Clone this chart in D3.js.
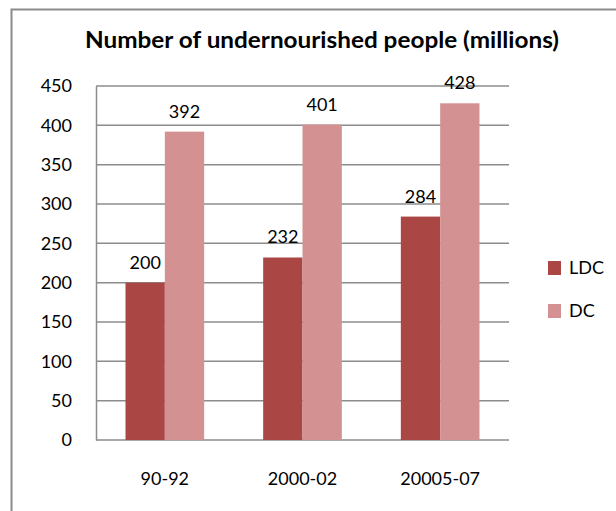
<!DOCTYPE html>
<html>
<head>
<meta charset="utf-8">
<script src="https://cdn.jsdelivr.net/npm/d3@7"></script>
<style>
  body { margin: 0; background: #fff; }
  text { font-family: Lato, "Open Sans", sans-serif; fill: #000; }
</style>
</head>
<body>
<div id="chart"></div>
<script>
// data
let periods = ['90-92', '2000-02', '20005-07']
let seriesNames = ['LDC', 'DC']
let ldcValues = [200, 232, 284]
let dcValues = [392, 401, 428]
let yTicks = [0, 50, 100, 150, 200, 250, 300, 350, 400, 450]
let colors = { LDC: '#aa4644', DC: '#d39291' }

let width = 616
let height = 511
let plot = { left: 96, right: 509, top: 86, bottom: 440 }

let rows = periods.map(function (p, i) {
  return { period: p, LDC: ldcValues[i], DC: dcValues[i] }
})

let svg = d3
  .select('#chart')
  .append('svg')
  .attr('width', width)
  .attr('height', height)

svg.append('rect')
  .attr('width', width)
  .attr('height', height)
  .attr('fill', '#fff')

// outer frame, runs off the right and bottom edges
svg.append('path')
  .attr('d', 'M11.5,' + (height + 5) + 'V9.5H' + (width + 5))
  .attr('fill', 'none')
  .attr('stroke', '#8c8c8c')
  .attr('stroke-width', 2)

let x = d3.scaleBand()
  .domain(periods)
  .range([plot.left, plot.right])

let x1 = d3.scaleBand()
  .domain(seriesNames)
  .range([0, x.bandwidth()])
  .paddingOuter(0.75)

let y = d3.scaleLinear()
  .domain([0, 450])
  .range([plot.bottom, plot.top])

// gridlines
svg.append('g')
  .selectAll('line')
  .data(yTicks)
  .enter()
  .append('line')
  .attr('x1', plot.left)
  .attr('x2', plot.right)
  .attr('y1', d => y(d))
  .attr('y2', d => y(d))
  .attr('stroke', '#8c8c8c')
  .attr('stroke-width', 1.5)

// y axis
let yAxis = svg.append('g')
  .attr('transform', 'translate(' + plot.left + ',0)')
  .call(d3.axisLeft(y).tickValues(yTicks).tickSize(0).tickPadding(24))
yAxis.select('.domain').attr('stroke', '#8c8c8c').attr('stroke-width', 1.5)
yAxis.selectAll('text')
  .style('font-size', '18px')
  .style('font-family', 'Lato, sans-serif')

// x axis labels
let xAxis = svg.append('g')
  .attr('transform', 'translate(0,' + plot.bottom + ')')
  .call(d3.axisBottom(x).tickSize(0).tickPadding(32))
xAxis.select('.domain').remove()
xAxis.selectAll('text')
  .style('font-size', '18px')
  .style('font-family', 'Lato, sans-serif')

// bars
let groups = svg.append('g')
  .selectAll('.group')
  .data(rows)
  .enter()
  .append('g')
  .attr('class', 'group')
  .attr('transform', d => 'translate(' + x(d.period) + ',0)')

groups.selectAll('rect')
  .data(d => seriesNames.map(s => ({ key: s, value: d[s] })))
  .enter()
  .append('rect')
  .attr('x', d => x1(d.key))
  .attr('width', x1.bandwidth())
  .attr('y', d => y(d.value))
  .attr('height', d => y(0) - y(d.value))
  .attr('fill', d => colors[d.key])

groups.selectAll('.lbl')
  .data(d => seriesNames.map(s => ({ key: s, value: d[s] })))
  .enter()
  .append('text')
  .attr('class', 'lbl')
  .attr('x', d => x1(d.key) + x1.bandwidth() / 2)
  .attr('y', d => y(d.value) - 14)
  .attr('text-anchor', 'middle')
  .style('font-size', '18px')
  .text(d => d.value)

// title
svg.append('text')
  .attr('x', 322)
  .attr('y', 48)
  .attr('text-anchor', 'middle')
  .style('font-size', '23px')
  .style('font-weight', 'bold')
  .attr('textLength', 474)
  .attr('lengthAdjust', 'spacingAndGlyphs')
  .text('Number of undernourished people (millions)')

// legend
let legend = svg.append('g')
  .selectAll('.leg')
  .data(seriesNames)
  .enter()
  .append('g')
  .attr('class', 'leg')
  .attr('transform', (d, i) => 'translate(548,' + (268 + i * 43) + ')')

legend.append('rect')
  .attr('x', 0)
  .attr('y', -7)
  .attr('width', 13)
  .attr('height', 14)
  .attr('fill', d => colors[d])

legend.append('text')
  .attr('x', 21)
  .attr('y', 0)
  .attr('dy', '0.36em')
  .style('font-size', '18px')
  .text(d => d)
</script>
</body>
</html>
